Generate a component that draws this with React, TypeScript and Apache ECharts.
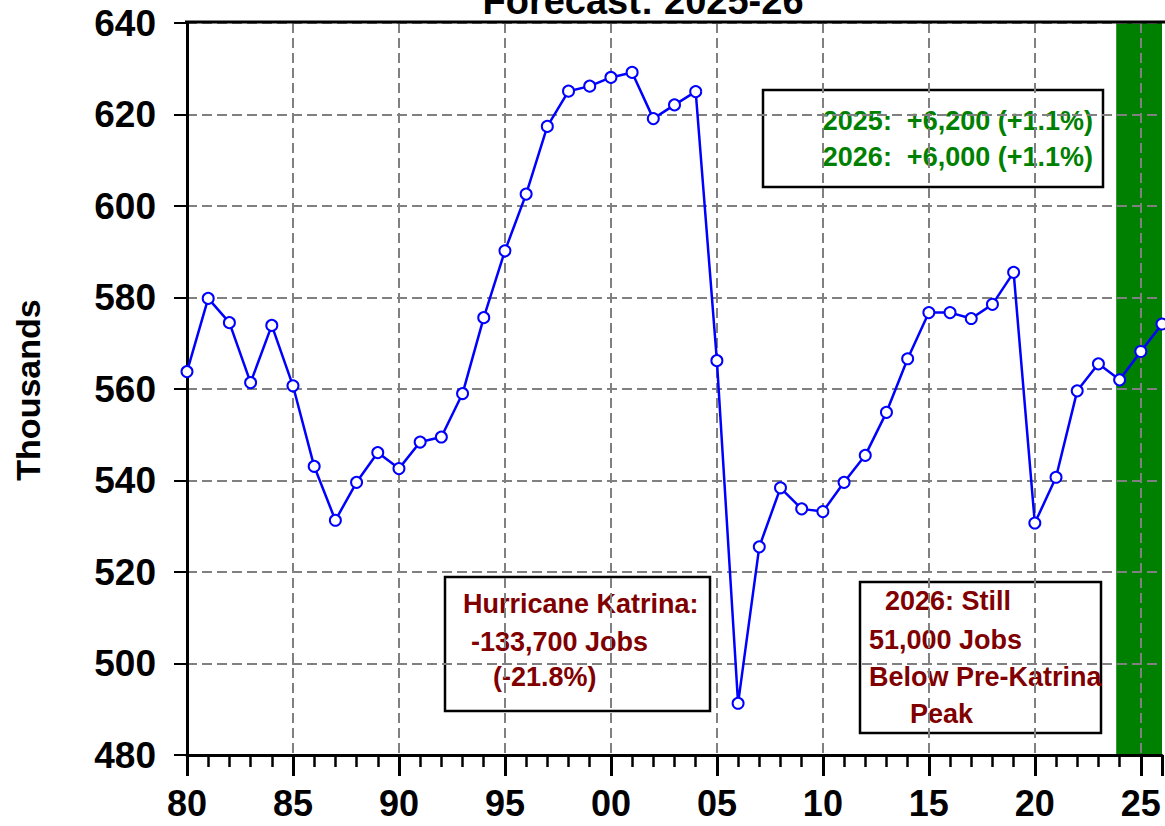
import React, { useEffect, useRef } from "react";
import * as echarts from "echarts";

const years = [
  1980, 1981, 1982, 1983, 1984, 1985, 1986, 1987, 1988, 1989,
  1990, 1991, 1992, 1993, 1994, 1995, 1996, 1997, 1998, 1999,
  2000, 2001, 2002, 2003, 2004, 2005, 2006, 2007, 2008, 2009,
  2010, 2011, 2012, 2013, 2014, 2015, 2016, 2017, 2018, 2019,
  2020, 2021, 2022, 2023, 2024, 2025, 2026,
];
const jobs = [
  563.8, 579.8, 574.5, 561.4, 573.9, 560.7, 543.1, 531.3, 539.6, 546.1,
  542.6, 548.4, 549.5, 559.0, 575.6, 590.2, 602.6, 617.4, 625.1, 626.2,
  628.1, 629.2, 619.1, 622.1, 625.0, 566.2, 491.3, 525.5, 538.4, 533.8,
  533.2, 539.6, 545.5, 554.9, 566.6, 576.7, 576.7, 575.4, 578.5, 585.5,
  530.7, 540.7, 559.6, 565.5, 562.0, 568.2, 574.2,
];
const forecastStart = 2023.84;
const forecastEnd = 2026;
const titleText = "Forecast: 2025-26";
const yAxisName = "Thousands";
const katrinaLines = ["Hurricane Katrina:", "-133,700 Jobs", "(-21.8%)"];
const stillLines = ["2026: Still", "51,000 Jobs", "Below Pre-Katrina", "Peak"];
const forecastLines = ["2025:  +6,200 (+1.1%)", "2026:  +6,000 (+1.1%)"];

const FONT = "'Liberation Sans', Arial, sans-serif";
const RED = "#800000";
const GREEN = "#008000";

function txt(text: string, x: number, y: number, color: string, size: number, align = "left") {
  return {
    type: "text",
    x,
    y,
    style: {
      text,
      fill: color,
      font: `bold ${size}px ${FONT}`,
      textAlign: align,
      textVerticalAlign: "middle",
    },
  };
}

export default function App() {
  const ref = useRef<HTMLDivElement>(null);
  useEffect(() => {
    document.body.style.margin = "0";
    const chart = echarts.init(ref.current!, null, { renderer: "svg" });
    const data = years.map((y, i) => [y, jobs[i]]);
    const option: any = {
      animation: false,
      backgroundColor: "#fff",
      grid: { left: 187, right: 0, top: 23, bottom: 71 },
      xAxis: [
        {
          type: "value",
          min: 1980,
          max: 2026,
          interval: 5,
          z: 3,
          axisLine: { show: true, onZero: false, lineStyle: { color: "#000", width: 3 } },
          axisTick: { show: true, length: 21, lineStyle: { color: "#000", width: 3 } },
          axisLabel: {
            color: "#000",
            fontSize: 36,
            fontWeight: "bold",
            fontFamily: FONT,
            margin: 30,
            formatter: (v: number) => (v === 2026 ? "" : String(v % 100).padStart(2, "0")),
          },
          splitLine: {
            show: true,
            showMaxLine: false,
            lineStyle: { color: "#808080", width: 2, type: [10, 5] },
          },
        },
        {
          type: "value",
          min: 1980,
          max: 2026,
          interval: 1,
          position: "bottom",
          z: 3,
          axisLine: { show: false, onZero: false },
          axisTick: { show: true, length: 12, lineStyle: { color: "#000", width: 2.5 } },
          axisLabel: { show: false },
          splitLine: { show: false },
        },
      ],
      yAxis: {
        type: "value",
        min: 480,
        max: 640,
        interval: 20,
        z: 3,
        axisLine: { show: true, onZero: false, lineStyle: { color: "#000", width: 3 } },
        axisTick: { show: true, length: 13, lineStyle: { color: "#000", width: 2 } },
        axisLabel: {
          color: "#000",
          fontSize: 37,
          fontWeight: "bold",
          fontFamily: FONT,
          margin: 31,
        },
        splitLine: { show: true, lineStyle: { color: "#808080", width: 2, type: [10, 5] } },
      },
      series: [
        {
          type: "line",
          z: 1,
          data: [[1980, 480]],
          showSymbol: false,
          lineStyle: { opacity: 0 },
          silent: true,
          markArea: {
            silent: true,
            itemStyle: { color: GREEN, opacity: 1 },
            data: [[{ xAxis: forecastStart }, { xAxis: forecastEnd }]],
          },
        },
        {
          type: "line",
          z: 5,
          xAxisIndex: 0,
          data,
          symbol: "emptyCircle",
          symbolSize: 11,
          lineStyle: { color: "#0000FF", width: 2.5 },
          itemStyle: { color: "#0000FF", borderWidth: 2.2 },
        },
      ],
      graphic: {
        elements: [
          {
            type: "line",
            z: 10,
            shape: { x1: 185, y1: 22, x2: 1165, y2: 22 },
            style: { stroke: "#000", lineWidth: 3 },
          },
          { ...txt(titleText, 643, 1, "#000", 38, "center"), z: 10 },
          {
            type: "text",
            z: 10,
            x: 28,
            y: 390,
            rotation: Math.PI / 2,
            style: {
              text: yAxisName,
              fill: "#000",
              font: `bold 34px ${FONT}`,
              textAlign: "center",
              textVerticalAlign: "middle",
            },
          },
          {
            type: "group",
            z: 10,
            children: [
              {
                type: "rect",
                shape: { x: 445, y: 577, width: 265, height: 134 },
                style: { fill: "#fff", stroke: "#000", lineWidth: 2.5 },
              },
              txt(katrinaLines[0], 463, 604, RED, 27),
              txt(katrinaLines[1], 471, 642, RED, 27),
              txt(katrinaLines[2], 493, 677, RED, 27),
            ],
          },
          {
            type: "group",
            z: 10,
            children: [
              {
                type: "rect",
                shape: { x: 860, y: 582, width: 241, height: 151 },
                style: { fill: "#fff", stroke: "#000", lineWidth: 2.5 },
              },
              txt(stillLines[0], 885, 601, RED, 27),
              txt(stillLines[1], 869, 639.5, RED, 27),
              txt(stillLines[2], 869, 676.5, RED, 27),
              txt(stillLines[3], 910, 714, RED, 27),
            ],
          },
          {
            type: "group",
            z: 10,
            children: [
              {
                type: "rect",
                shape: { x: 763, y: 90, width: 340, height: 97 },
                style: { fill: "#fff", stroke: "#000", lineWidth: 2.5 },
              },
              txt(forecastLines[0], 1093, 120.5, GREEN, 27, "right"),
              txt(forecastLines[1], 1093, 156.5, GREEN, 27, "right"),
            ],
          },
        ],
      },
    };
    chart.setOption(option);
    return () => chart.dispose();
  }, []);
  return <div ref={ref} style={{ width: 1165, height: 826 }} />;
}
